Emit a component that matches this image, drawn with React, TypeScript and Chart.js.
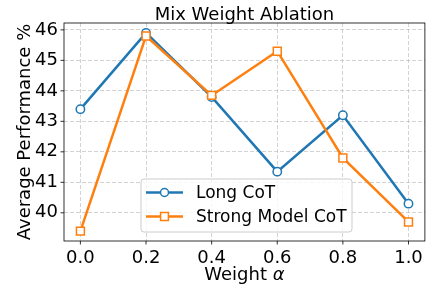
import { useEffect, useRef } from "react";
import { Chart, registerables } from "chart.js";

Chart.register(...registerables);

const weights = [0.0, 0.2, 0.4, 0.6, 0.8, 1.0];
const longCoT = [43.4, 45.9, 43.8, 41.35, 43.2, 40.3];
const strongCoT = [39.4, 45.8, 43.85, 45.3, 41.8, 39.7];
const xTicks = [0.0, 0.2, 0.4, 0.6, 0.8, 1.0];
const yTicks = [40, 41, 42, 43, 44, 45, 46];
const seriesNames = ["Long CoT", "Strong Model CoT"];
const chartTitle = "Mix Weight Ablation";
const xLabelText = "Weight ";
const xLabelSymbol = "α";
const yLabelText = "Average Performance %";

const BLUE = "#1f77b4";
const ORANGE = "#ff7f0e";
const FONT = "'DejaVu Sans', sans-serif";

function drawMarker(ctx: CanvasRenderingContext2D, kind: string, x: number, y: number, color: string) {
  ctx.save();
  ctx.fillStyle = "#ffffff";
  ctx.strokeStyle = color;
  ctx.lineWidth = 1.5;
  ctx.beginPath();
  if (kind === "circle") {
    ctx.arc(x, y, 4, 0, Math.PI * 2);
  } else {
    ctx.rect(x - 3.9, y - 3.9, 7.8, 7.8);
  }
  ctx.fill();
  ctx.stroke();
  ctx.restore();
}

const decorPlugin = {
  id: "decor",
  afterDatasetsDraw(chart: any) {
    const { ctx, chartArea } = chart;
    const { left, right, top, bottom } = chartArea;
    ctx.save();
    ctx.strokeStyle = "#000";
    ctx.lineWidth = 0.8;
    ctx.setLineDash([]);
    ctx.strokeRect(left, top, right - left, bottom - top);
    const xs = chart.scales.x;
    const ys = chart.scales.y;
    ctx.beginPath();
    for (const v of xTicks) {
      const px = xs.getPixelForValue(v);
      ctx.moveTo(px, bottom);
      ctx.lineTo(px, bottom + 3.5);
    }
    for (const v of yTicks) {
      const py = ys.getPixelForValue(v);
      ctx.moveTo(left, py);
      ctx.lineTo(left - 3.5, py);
    }
    ctx.stroke();
    ctx.restore();
  },
  afterDraw(chart: any) {
    const { ctx, chartArea } = chart;
    const { left, right, top, bottom } = chartArea;
    const cx = (left + right) / 2;
    ctx.save();
    ctx.fillStyle = "#000";
    // title
    ctx.font = `18px ${FONT}`;
    ctx.textAlign = "center";
    ctx.textBaseline = "alphabetic";
    ctx.fillText(chartTitle, cx, 20);
    // x label
    ctx.font = `18px ${FONT}`;
    const w1 = ctx.measureText(xLabelText).width;
    ctx.font = `italic 18px ${FONT}`;
    const w2 = ctx.measureText(xLabelSymbol).width;
    const startX = cx - (w1 + w2) / 2;
    ctx.textAlign = "left";
    ctx.font = `18px ${FONT}`;
    ctx.fillText(xLabelText, startX, 280);
    ctx.font = `italic 18px ${FONT}`;
    ctx.fillText(xLabelSymbol, startX + w1, 280);
    // y label
    ctx.save();
    ctx.translate(29.5, (top + bottom) / 2);
    ctx.rotate(-Math.PI / 2);
    ctx.font = `18px ${FONT}`;
    ctx.textAlign = "center";
    ctx.fillText(yLabelText, 0, 0);
    ctx.restore();
    // legend
    const lx = 141, ly = 179, lw = 211, lh = 53, r = 3;
    ctx.beginPath();
    ctx.moveTo(lx + r, ly);
    ctx.arcTo(lx + lw, ly, lx + lw, ly + lh, r);
    ctx.arcTo(lx + lw, ly + lh, lx, ly + lh, r);
    ctx.arcTo(lx, ly + lh, lx, ly, r);
    ctx.arcTo(lx, ly, lx + lw, ly, r);
    ctx.closePath();
    ctx.fillStyle = "rgba(255,255,255,0.8)";
    ctx.fill();
    ctx.strokeStyle = "#cccccc";
    ctx.lineWidth = 1;
    ctx.stroke();
    const rows = [
      { name: seriesNames[0], color: BLUE, kind: "circle", y: 192.5 },
      { name: seriesNames[1], color: ORANGE, kind: "rect", y: 216.5 },
    ];
    for (const row of rows) {
      ctx.strokeStyle = row.color;
      ctx.lineWidth = 2.5;
      ctx.beginPath();
      ctx.moveTo(146, row.y);
      ctx.lineTo(183, row.y);
      ctx.stroke();
      drawMarker(ctx, row.kind, 164.5, row.y, row.color);
      ctx.fillStyle = "#000";
      ctx.font = `17px ${FONT}`;
      ctx.textAlign = "left";
      ctx.textBaseline = "middle";
      ctx.fillText(row.name, 196, row.y + 1);
    }
    ctx.restore();
  },
};

export default function App() {
  const ref = useRef<HTMLCanvasElement | null>(null);
  useEffect(() => {
    if (!ref.current) return;
    Chart.defaults.font.family = FONT;
    const chart = new Chart(ref.current, {
      type: "line",
      data: {
        datasets: [
          {
            label: seriesNames[0],
            data: weights.map((x, i) => ({ x, y: longCoT[i] })),
            borderColor: BLUE,
            backgroundColor: "#ffffff",
            borderWidth: 2.5,
            pointStyle: "circle",
            pointRadius: 4.2,
            pointBorderWidth: 1.5,
            pointBackgroundColor: "#ffffff",
            pointBorderColor: BLUE,
            tension: 0,
            order: 1,
          },
          {
            label: seriesNames[1],
            data: weights.map((x, i) => ({ x, y: strongCoT[i] })),
            borderColor: ORANGE,
            backgroundColor: "#ffffff",
            borderWidth: 2.5,
            pointStyle: "rect",
            pointRadius: 5.6,
            pointBorderWidth: 1.5,
            pointBackgroundColor: "#ffffff",
            pointBorderColor: ORANGE,
            tension: 0,
            order: 0,
          },
        ],
      },
      options: {
        responsive: false,
        animation: false,
        devicePixelRatio: 1,
        layout: { padding: { top: 23, right: 3, left: 0, bottom: 0 } },
        plugins: { legend: { display: false }, tooltip: { enabled: false }, title: { display: false } },
        scales: {
          x: {
            type: "linear",
            min: -0.05,
            max: 1.05,
            afterBuildTicks: (s: any) => {
              s.ticks = xTicks.map((v) => ({ value: v }));
            },
            afterFit: (s: any) => {
              s.height = 47;
            },
            ticks: {
              callback: (v: any) => Number(v).toFixed(1),
              font: { size: 18, family: FONT },
              color: "#000",
              padding: 7,
              maxRotation: 0,
              autoSkip: false,
            },
            grid: { color: "rgba(176,176,176,0.7)", lineWidth: 0.8, drawTicks: false },
            border: { display: false, dash: [4, 2] },
          },
          y: {
            type: "linear",
            min: 39.075,
            max: 46.225,
            afterBuildTicks: (s: any) => {
              s.ticks = yTicks.map((v) => ({ value: v }));
            },
            afterFit: (s: any) => {
              s.width = 64;
            },
            ticks: {
              callback: (v: any) => String(v),
              font: { size: 18, family: FONT },
              color: "#000",
              padding: 6,
              autoSkip: false,
            },
            grid: { color: "rgba(176,176,176,0.7)", lineWidth: 0.8, drawTicks: false },
            border: { display: false, dash: [4, 2] },
          },
        },
      },
      plugins: [decorPlugin],
    } as any);
    return () => chart.destroy();
  }, []);
  return (
    <div style={{ position: "fixed", left: 0, top: 0, width: 432, height: 288, background: "#fff" }}>
      <canvas ref={ref} width={432} height={288} style={{ display: "block" }} />
    </div>
  );
}
